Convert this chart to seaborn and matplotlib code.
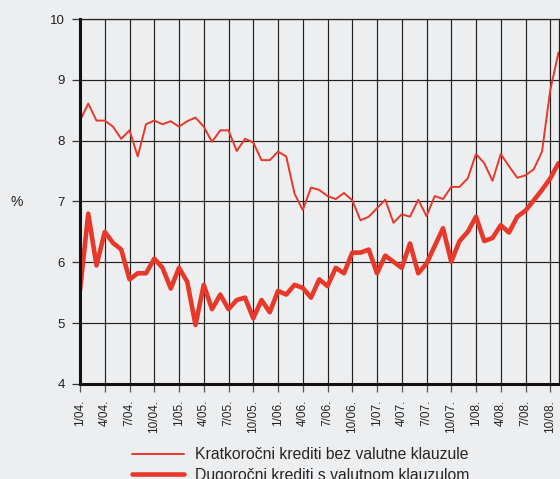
import matplotlib
matplotlib.use("Agg")
import matplotlib.pyplot as plt
import seaborn as sns
import pandas as pd
import numpy as np

# ---- data ----
months = [f"{m}/{y:02d}." for y in range(4, 9) for m in range(1, 13)][:59]
tick_labels = ["1/04.", "4/04.", "7/04.", "10/04.", "1/05.", "4/05.", "7/05.", "10/05.",
               "1/06.", "4/06.", "7/06.", "10/06.", "1/07.", "4/07.", "7/07.", "10/07.",
               "1/08.", "4/08.", "7/08.", "10/08."]

short_no_clause = [8.33, 8.61, 8.33, 8.33, 8.23, 8.03, 8.17, 7.74, 8.27, 8.33,
                   8.27, 8.32, 8.23, 8.32, 8.38, 8.23, 7.98, 8.17, 8.17, 7.83,
                   8.03, 7.97, 7.68, 7.68, 7.82, 7.74, 7.13, 6.86, 7.23, 7.19,
                   7.09, 7.04, 7.14, 7.02, 6.69, 6.75, 6.89, 7.03, 6.65, 6.79,
                   6.75, 7.03, 6.76, 7.09, 7.04, 7.24, 7.24, 7.38, 7.78, 7.63,
                   7.34, 7.78, 7.58, 7.39, 7.43, 7.53, 7.82, 8.83, 9.45]

long_with_clause = [5.54, 6.80, 5.95, 6.50, 6.32, 6.21, 5.72, 5.82, 5.82, 6.06,
                    5.91, 5.57, 5.91, 5.68, 4.97, 5.63, 5.23, 5.47, 5.23, 5.38,
                    5.42, 5.08, 5.38, 5.18, 5.53, 5.47, 5.63, 5.58, 5.42, 5.72,
                    5.61, 5.91, 5.82, 6.16, 6.16, 6.21, 5.82, 6.11, 6.01, 5.91,
                    6.31, 5.82, 5.98, 6.27, 6.56, 6.01, 6.35, 6.50, 6.75, 6.35,
                    6.40, 6.61, 6.49, 6.75, 6.85, 7.02, 7.19, 7.38, 7.63]

series_names = ["Kratkoročni krediti bez valutne klauzule",
                "Dugoročni krediti s valutnom klauzulom"]

df = pd.DataFrame({
    "idx": np.arange(len(months)),
    "short": short_no_clause,
    "long": long_with_clause,
})

# ---- style ----
bg = "#EDEEF0"
red = "#E8382A"
txt = "#222222"
sns.set_theme(style="white")
plt.rcParams["font.family"] = ["Liberation Sans", "DejaVu Sans"]

fig = plt.figure(figsize=(5.6, 4.79), dpi=100, facecolor=bg)
ax = fig.add_axes([80 / 560, 1 - 384 / 479, (558.5 - 80) / 560, (384 - 19) / 479])
ax.set_facecolor(bg)

sns.lineplot(data=df, x="idx", y="short", ax=ax, color=red, linewidth=1.4,
             label=series_names[0])
sns.lineplot(data=df, x="idx", y="long", ax=ax, color=red, linewidth=3.3,
             label=series_names[1])

ax.set_xlim(0, 58)
ax.set_ylim(4, 10)
ax.set_yticks(range(4, 11))
ax.set_xticks(range(0, 58, 3))
ax.set_xticklabels(tick_labels, rotation=90, fontsize=8.5, color=txt)
ax.tick_params(axis="y", labelsize=9.5, colors=txt, length=5.8, width=0.9, pad=5,
               color="#333333", left=True, direction="out")
ax.tick_params(axis="x", length=5.5, width=0.9, pad=6, color="#555555",
               bottom=True, direction="out")

ax.grid(True, color="#222222", linewidth=0.85)
ax.set_axisbelow(True)
for s in ["top", "right"]:
    ax.spines[s].set_color("#222222")
    ax.spines[s].set_linewidth(0.9)
for s in ["left", "bottom"]:
    ax.spines[s].set_color("#111111")
    ax.spines[s].set_linewidth(2.2)

ax.set_xlabel("")
ax.set_ylabel("")
fig.text(17 / 560, 1 - 202 / 479, "%", ha="center", va="center", fontsize=10, color=txt)

handles, labels = ax.get_legend_handles_labels()
ax.legend_.remove()
fig.legend(handles, labels, loc="upper left", bbox_to_anchor=(132 / 560, 1 - 447 / 479),
           frameon=False, fontsize=11.3, handlelength=3.3, handletextpad=0.7,
           labelspacing=0.38, borderaxespad=0, borderpad=0)

fig.savefig("out.png", dpi=100, facecolor=bg)
